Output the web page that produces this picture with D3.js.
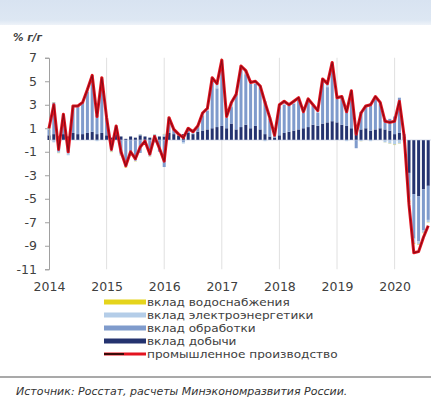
<!DOCTYPE html>
<html><head><meta charset="utf-8">
<script src="https://cdn.jsdelivr.net/npm/d3@7"></script>
<style>
html,body{margin:0;padding:0;background:#fff;}
svg{display:block;font-family:"DejaVu Sans",Arial,sans-serif;}
</style></head>
<body>
<svg id="c" width="431" height="400"></svg>
<script>
// ---- data (monthly, Jan 2014 – Aug 2020), % y/y ----
const years = ["2014","2015","2016","2017","2018","2019","2020"];
const yTicks = [7,5,3,1,-1,-3,-5,-7,-9,-11];
const total = [1.0,3.0,-0.8,2.2,-1.0,2.9,2.9,3.2,4.3,5.5,2.0,5.3,
  1.9,-0.8,1.2,-1.0,-2.2,-1.0,-1.6,-0.6,-0.1,-1.2,0.3,-0.7,
  -1.8,1.9,0.9,0.5,0.2,1.0,0.7,1.2,2.3,2.7,5.3,4.8,
  6.8,2.0,3.2,3.9,6.3,5.9,4.9,5.0,4.6,3.2,1.9,0.4,
  3.0,3.3,3.0,3.3,3.6,2.4,3.5,3.0,2.5,5.2,4.8,6.6,
  3.6,3.7,2.4,4.2,0.5,2.3,2.9,3.0,3.7,3.2,1.6,1.5,
  1.6,3.3,0.3,-5.5,-9.6,-9.5,-8.3,-7.3];
const mining = [0.4,0.5,0.3,0.5,0.3,0.6,0.5,0.5,0.6,0.7,0.5,0.6,
  0.4,0.2,0.5,0.3,0.1,0.3,0.2,0.4,0.3,0.2,0.4,0.3,
  0.3,0.6,0.5,0.4,0.5,0.6,0.5,0.7,0.8,0.9,1.0,1.1,
  1.2,1.0,1.4,0.9,1.1,1.3,1.0,1.2,0.9,0.5,0.3,0.2,
  0.4,0.6,0.7,0.8,0.9,1.0,1.1,1.3,1.2,1.4,1.5,1.6,
  1.5,1.3,1.2,1.0,1.1,0.9,1.0,0.8,0.9,1.0,0.9,0.8,
  0.5,0.6,0.3,-2.8,-4.6,-4.8,-4.2,-3.9];
const manufacturing = [0.5,2.7,-1.0,1.6,-1.1,2.1,2.3,2.7,3.5,4.5,1.6,4.6,
  1.5,-0.8,0.6,-1.2,-2.2,-1.3,-1.7,-1.1,-0.4,-1.3,-0.2,-1.0,
  -2.3,1.2,0.4,0.0,-0.2,0.3,0.0,0.4,1.3,1.6,4.0,3.3,
  5.3,0.9,1.4,3.0,5.0,4.3,3.8,3.6,3.7,2.8,1.5,0.2,
  2.4,2.4,2.2,2.3,2.5,1.3,2.2,1.6,1.1,3.6,3.0,4.9,
  2.0,2.4,1.3,3.2,-0.7,1.5,1.9,2.3,2.8,2.1,0.9,1.0,
  1.5,3.0,0.2,-2.1,-3.8,-3.8,-3.5,-2.9];
const electricity = [0.1,-0.2,-0.1,0.1,-0.2,0.2,0.1,0.0,0.2,0.3,-0.1,0.1,
  0.0,-0.2,0.1,-0.1,-0.1,0.0,-0.1,0.1,0.0,-0.1,0.1,0.0,
  0.2,0.1,0.0,0.1,-0.1,0.1,0.2,0.1,0.2,0.2,0.3,0.4,
  0.3,0.1,0.4,0.0,0.2,0.3,0.1,0.2,0.0,-0.1,0.1,0.0,
  0.2,0.3,0.1,0.2,0.2,0.1,0.2,0.1,0.2,0.2,0.3,0.1,
  0.1,0.0,-0.1,0.0,0.1,-0.1,0.0,-0.1,0.0,0.1,-0.2,-0.3,
  -0.4,-0.3,-0.2,-0.3,-0.4,-0.3,-0.2,-0.2];
const water = [0.05,0.02,-0.02,0.03,0.01,0.04,0.03,0.02,0.05,0.04,0.02,0.05,
  0.01,-0.03,0.02,-0.02,-0.04,-0.01,-0.02,0.01,-0.01,-0.02,0.01,0.00,
  0.02,0.03,0.01,0.02,0.01,0.03,0.02,0.04,0.03,0.02,0.04,0.05,
  0.04,0.02,0.05,0.01,0.03,0.04,0.02,0.03,0.01,0.00,0.02,0.01,
  0.03,0.04,0.02,0.03,0.04,0.02,0.03,0.02,0.04,0.03,0.05,0.02,
  0.02,0.01,0.00,0.01,0.02,-0.01,0.01,0.00,0.01,0.02,-0.01,-0.02,
  -0.03,-0.02,-0.01,-0.05,-0.06,-0.04,-0.03,-0.02];
const seriesNames = ["вклад водоснабжения","вклад электроэнергетики","вклад обработки","вклад добычи","промышленное производство"];
const unit = "% г/г";
const source = "Источник: Росстат, расчеты Минэкономразвития России.";

// ---- drawing ----
const FONT = "DejaVu Sans, Arial, sans-serif";
const svg = d3.select("#c");
svg.append("rect").attr("width",431).attr("height",400).attr("fill","#fff");

// header band
const grad = svg.append("defs").append("linearGradient").attr("id","hb").attr("x1",0).attr("x2",0).attr("y1",0).attr("y2",1);
grad.append("stop").attr("offset","0%").attr("stop-color","#d8e3f1");
grad.append("stop").attr("offset","80%").attr("stop-color","#dde7f3");
grad.append("stop").attr("offset","100%").attr("stop-color","#eef3f9");
svg.append("rect").attr("x",0).attr("y",0).attr("width",431).attr("height",25).attr("fill","url(#hb)");
svg.append("text").attr("x",13).attr("y",41).attr("font-size",10.5).attr("fill","#404040")
  .attr("font-weight","bold").attr("font-style","italic").text(unit);

const x = d3.scaleLinear().domain([0,84]).range([49,49+57.6*7]);
const y = d3.scaleLinear().domain([-11,7]).range([269.25,57.75]);

// gridlines
svg.append("g").selectAll("line").data(years.slice(1)).join("line")
  .attr("x1",(d,i)=>x((i+1)*12)).attr("x2",(d,i)=>x((i+1)*12))
  .attr("y1",y(7)).attr("y2",y(-11)).attr("stroke","#e0e0e0").attr("stroke-width",1);

// stacked bars
const rows = total.map((t,i)=>({i, water:water[i], elec:electricity[i], manuf:manufacturing[i], mining:mining[i]}));
const keys = ["mining","manuf","elec","water"];
const colors = {mining:"#24336f", manuf:"#7f9bcc", elec:"#b4cde8", water:"#e5d41c"};
const stack = d3.stack().keys(keys).offset(d3.stackOffsetDiverging)(rows);
const bw = 3.0;
const barG = svg.append("g");
stack.forEach(s=>{
  barG.append("g").attr("fill",colors[s.key]).selectAll("rect").data(s).join("rect")
    .attr("x",d=>x(d.data.i)-bw/2).attr("width",bw)
    .attr("y",d=>y(Math.max(d[0],d[1]))).attr("height",d=>Math.abs(y(d[0])-y(d[1])));
});

// zero line
svg.append("line").attr("x1",49).attr("x2",431).attr("y1",y(0)).attr("y2",y(0))
  .attr("stroke","#b8c4da").attr("stroke-width",0.6);

// y axis
const ya = svg.append("g").attr("transform","translate(49,0)")
  .call(d3.axisLeft(y).tickValues(yTicks).tickFormat(d=>String(d)).tickSize(4).tickPadding(8));
ya.select(".domain").attr("stroke","#a0a0a0");
ya.selectAll(".tick line").attr("stroke","#a0a0a0");
ya.selectAll("text").attr("font-size",12.5).attr("fill","#404040").attr("font-family",FONT);

// x axis labels
const xa = svg.append("g").attr("transform","translate(0,279)")
  .call(d3.axisBottom(x).tickValues(years.map((d,i)=>i*12)).tickFormat((d,i)=>years[i]).tickSize(0).tickPadding(3));
xa.select(".domain").remove();
xa.selectAll("text").attr("font-size",12.5).attr("fill","#404040").attr("font-family",FONT);

// line
const line = d3.line().x((d,i)=>x(i)).y(d=>y(d));
svg.append("path").datum(total).attr("d",line).attr("fill","none")
  .attr("stroke","#e3131f").attr("stroke-width",3).attr("stroke-linejoin","round");
svg.append("path").datum(total).attr("d",line).attr("fill","none")
  .attr("stroke","#8c0a16").attr("stroke-width",1.1).attr("stroke-linejoin","round");

// legend
const lg = svg.append("g");
const legCol = [colors.water, colors.elec, colors.manuf, colors.mining];
const ly = [302,315,328,341,354];
seriesNames.forEach((n,k)=>{
  if(k<4){
    lg.append("rect").attr("x",104).attr("y",ly[k]-2.5).attr("width",42).attr("height",5).attr("fill",legCol[k]);
  } else {
    lg.append("line").attr("x1",104).attr("x2",146).attr("y1",ly[k]).attr("y2",ly[k]).attr("stroke","#e3131f").attr("stroke-width",3);
    lg.append("line").attr("x1",104).attr("x2",124).attr("y1",ly[k]).attr("y2",ly[k]).attr("stroke","#3a0a08").attr("stroke-width",2);
  }
  lg.append("text").attr("x",147).attr("y",ly[k]).attr("dy","0.35em").attr("font-size",11)
    .attr("fill","#404040").attr("font-family",FONT)
    .attr("transform",`translate(147,0) scale(1.1,1) translate(-147,0)`).text(n);
});

// separator + source
svg.append("line").attr("x1",0).attr("x2",431).attr("y1",377).attr("y2",377).attr("stroke","#8c8c8c").attr("stroke-width",1.5);
svg.append("text").attr("x",16).attr("y",395).attr("font-size",11).attr("font-style","italic")
  .attr("fill","#333").attr("font-family",FONT).text(source);
</script>
</body></html>
